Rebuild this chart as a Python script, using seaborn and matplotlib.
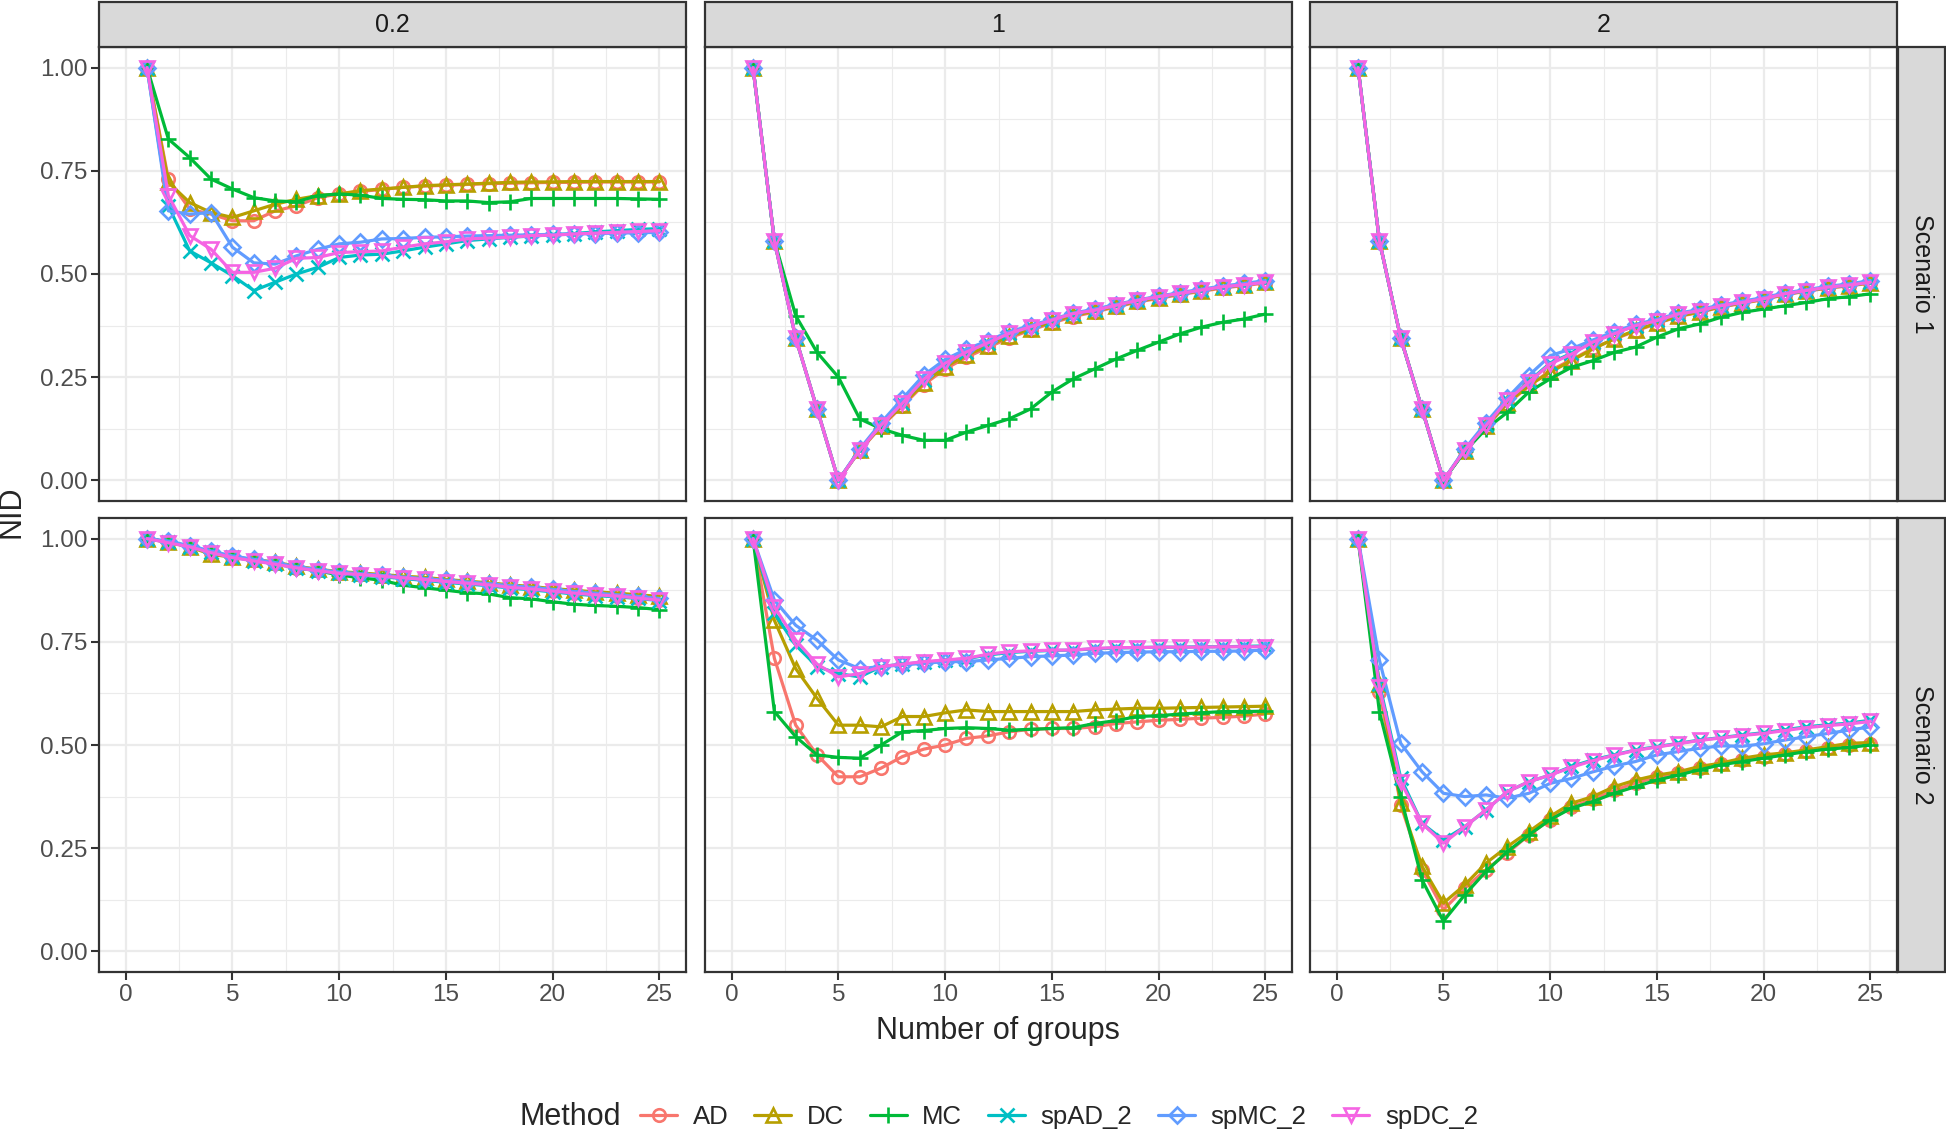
import numpy as np
import pandas as pd
import matplotlib
matplotlib.use("Agg")
import matplotlib.pyplot as plt
from matplotlib.patches import Rectangle
from matplotlib.lines import Line2D
from matplotlib.ticker import MultipleLocator, FormatStrFormatter
import seaborn as sns

# Data: NID by number of groups, per scenario / sigma panel and method
groups = list(range(1, 26))
methods = ["AD", "DC", "MC", "spAD_2", "spMC_2", "spDC_2"]
sigmas = ["0.2", "1", "2"]
scenarios = ["Scenario 1", "Scenario 2"]

s1_sig02 = {
    "AD": [1.0, 0.73, 0.657, 0.645, 0.629, 0.629, 0.653, 0.665, 0.685, 0.694, 0.70, 0.705, 0.71, 0.713, 0.715, 0.717, 0.719, 0.72, 0.721, 0.722, 0.722, 0.723, 0.723, 0.723, 0.723],
    "DC": [1.0, 0.722, 0.673, 0.649, 0.637, 0.653, 0.669, 0.681, 0.69, 0.694, 0.702, 0.706, 0.71, 0.714, 0.716, 0.718, 0.72, 0.722, 0.723, 0.723, 0.724, 0.724, 0.724, 0.724, 0.724],
    "MC": [1.0, 0.827, 0.782, 0.730, 0.706, 0.685, 0.677, 0.675, 0.690, 0.694, 0.691, 0.683, 0.681, 0.680, 0.677, 0.677, 0.673, 0.675, 0.683, 0.683, 0.683, 0.683, 0.683, 0.682, 0.681],
    "spAD_2": [1.0, 0.665, 0.556, 0.527, 0.496, 0.46, 0.48, 0.50, 0.516, 0.54, 0.546, 0.548, 0.556, 0.565, 0.573, 0.581, 0.585, 0.589, 0.592, 0.595, 0.598, 0.602, 0.605, 0.608, 0.61],
    "spMC_2": [1.0, 0.653, 0.645, 0.649, 0.565, 0.527, 0.524, 0.544, 0.56, 0.573, 0.577, 0.585, 0.586, 0.589, 0.590, 0.592, 0.593, 0.594, 0.595, 0.596, 0.597, 0.598, 0.599, 0.600, 0.601],
    "spDC_2": [1.0, 0.69, 0.593, 0.56, 0.504, 0.504, 0.514, 0.538, 0.54, 0.552, 0.554, 0.556, 0.565, 0.573, 0.578, 0.585, 0.587, 0.589, 0.593, 0.594, 0.597, 0.599, 0.601, 0.603, 0.605],
}
s1_sig1 = {
    "AD": [1.0, 0.581, 0.345, 0.173, 0.0, 0.072, 0.130, 0.180, 0.232, 0.270, 0.298, 0.322, 0.345, 0.364, 0.381, 0.397, 0.408, 0.420, 0.432, 0.441, 0.450, 0.458, 0.466, 0.472, 0.478],
    "DC": [1.0, 0.581, 0.345, 0.173, 0.0, 0.073, 0.132, 0.183, 0.236, 0.275, 0.303, 0.326, 0.349, 0.367, 0.384, 0.400, 0.410, 0.422, 0.434, 0.443, 0.452, 0.460, 0.468, 0.474, 0.480],
    "MC": [1.0, 0.581, 0.399, 0.31, 0.25, 0.149, 0.125, 0.109, 0.097, 0.097, 0.117, 0.133, 0.149, 0.173, 0.214, 0.246, 0.27, 0.294, 0.315, 0.335, 0.355, 0.371, 0.383, 0.391, 0.403],
    "spAD_2": [1.0, 0.581, 0.345, 0.173, 0.0, 0.074, 0.135, 0.188, 0.244, 0.284, 0.312, 0.333, 0.356, 0.372, 0.388, 0.404, 0.413, 0.424, 0.436, 0.445, 0.453, 0.461, 0.469, 0.474, 0.481],
    "spMC_2": [1.0, 0.581, 0.345, 0.173, 0.0, 0.076, 0.140, 0.198, 0.255, 0.293, 0.318, 0.338, 0.360, 0.375, 0.390, 0.405, 0.415, 0.426, 0.437, 0.446, 0.455, 0.463, 0.471, 0.477, 0.484],
    "spDC_2": [1.0, 0.581, 0.345, 0.173, 0.0, 0.073, 0.134, 0.187, 0.245, 0.284, 0.311, 0.333, 0.356, 0.372, 0.388, 0.404, 0.412, 0.424, 0.436, 0.445, 0.453, 0.461, 0.469, 0.474, 0.480],
}
s1_sig2 = {
    "AD": [1.0, 0.581, 0.345, 0.173, 0.0, 0.072, 0.130, 0.186, 0.228, 0.266, 0.292, 0.320, 0.342, 0.362, 0.380, 0.397, 0.407, 0.420, 0.429, 0.438, 0.450, 0.458, 0.466, 0.471, 0.478],
    "DC": [1.0, 0.581, 0.345, 0.173, 0.0, 0.072, 0.131, 0.188, 0.230, 0.262, 0.290, 0.318, 0.343, 0.364, 0.381, 0.398, 0.408, 0.421, 0.430, 0.439, 0.451, 0.459, 0.467, 0.472, 0.479],
    "MC": [1.0, 0.581, 0.345, 0.173, 0.0, 0.070, 0.125, 0.165, 0.214, 0.246, 0.274, 0.29, 0.31, 0.323, 0.347, 0.367, 0.379, 0.395, 0.407, 0.415, 0.423, 0.431, 0.44, 0.445, 0.452],
    "spAD_2": [1.0, 0.581, 0.345, 0.173, 0.0, 0.073, 0.134, 0.194, 0.240, 0.284, 0.308, 0.336, 0.356, 0.375, 0.388, 0.403, 0.412, 0.423, 0.432, 0.441, 0.452, 0.460, 0.468, 0.473, 0.480],
    "spMC_2": [1.0, 0.581, 0.345, 0.173, 0.0, 0.076, 0.140, 0.200, 0.254, 0.302, 0.319, 0.340, 0.360, 0.378, 0.390, 0.405, 0.414, 0.425, 0.434, 0.443, 0.454, 0.462, 0.470, 0.476, 0.484],
    "spDC_2": [1.0, 0.581, 0.345, 0.173, 0.0, 0.073, 0.133, 0.194, 0.238, 0.282, 0.306, 0.335, 0.355, 0.375, 0.387, 0.403, 0.411, 0.423, 0.431, 0.44, 0.452, 0.46, 0.468, 0.473, 0.48],
}
s2_sig02 = {
    "AD": [1.0, 0.992, 0.981, 0.966, 0.956, 0.948, 0.940, 0.930, 0.923, 0.917, 0.914, 0.910, 0.906, 0.902, 0.897, 0.893, 0.889, 0.883, 0.879, 0.874, 0.869, 0.865, 0.862, 0.857, 0.852],
    "DC": [1.0, 0.991, 0.980, 0.962, 0.955, 0.950, 0.943, 0.933, 0.926, 0.920, 0.917, 0.913, 0.909, 0.906, 0.901, 0.897, 0.893, 0.888, 0.884, 0.879, 0.875, 0.871, 0.868, 0.864, 0.860],
    "MC": [1.0, 0.992, 0.981, 0.968, 0.956, 0.948, 0.940, 0.930, 0.922, 0.912, 0.905, 0.899, 0.887, 0.881, 0.875, 0.869, 0.866, 0.857, 0.854, 0.847, 0.841, 0.838, 0.836, 0.833, 0.828],
    "spAD_2": [1.0, 0.992, 0.980, 0.968, 0.955, 0.947, 0.939, 0.929, 0.922, 0.916, 0.912, 0.908, 0.903, 0.899, 0.894, 0.890, 0.886, 0.880, 0.876, 0.871, 0.866, 0.862, 0.859, 0.855, 0.850],
    "spMC_2": [1.0, 0.994, 0.983, 0.970, 0.958, 0.950, 0.942, 0.932, 0.925, 0.919, 0.915, 0.911, 0.907, 0.903, 0.899, 0.895, 0.891, 0.886, 0.882, 0.877, 0.872, 0.868, 0.864, 0.860, 0.855],
    "spDC_2": [1.0, 0.990, 0.980, 0.966, 0.954, 0.946, 0.938, 0.929, 0.922, 0.916, 0.913, 0.909, 0.905, 0.901, 0.896, 0.892, 0.888, 0.882, 0.878, 0.873, 0.868, 0.864, 0.861, 0.856, 0.851],
}
s2_sig1 = {
    "AD": [1.0, 0.71, 0.548, 0.476, 0.423, 0.423, 0.444, 0.472, 0.49, 0.50, 0.516, 0.522, 0.532, 0.538, 0.54, 0.54, 0.544, 0.552, 0.556, 0.56, 0.562, 0.565, 0.567, 0.570, 0.575],
    "DC": [1.0, 0.802, 0.685, 0.613, 0.548, 0.548, 0.544, 0.569, 0.569, 0.578, 0.585, 0.581, 0.581, 0.581, 0.581, 0.581, 0.585, 0.587, 0.589, 0.589, 0.590, 0.591, 0.592, 0.593, 0.594],
    "MC": [1.0, 0.581, 0.52, 0.476, 0.47, 0.468, 0.50, 0.532, 0.535, 0.54, 0.542, 0.54, 0.536, 0.538, 0.54, 0.542, 0.552, 0.559, 0.569, 0.571, 0.575, 0.578, 0.581, 0.581, 0.582],
    "spAD_2": [1.0, 0.819, 0.742, 0.69, 0.673, 0.665, 0.69, 0.696, 0.70, 0.705, 0.709, 0.718, 0.724, 0.727, 0.729, 0.730, 0.733, 0.735, 0.736, 0.737, 0.737, 0.738, 0.738, 0.739, 0.740],
    "spMC_2": [1.0, 0.851, 0.79, 0.754, 0.706, 0.685, 0.69, 0.694, 0.698, 0.702, 0.702, 0.706, 0.71, 0.714, 0.716, 0.718, 0.722, 0.724, 0.725, 0.726, 0.726, 0.727, 0.727, 0.728, 0.73],
    "spDC_2": [1.0, 0.835, 0.754, 0.696, 0.665, 0.673, 0.69, 0.696, 0.702, 0.706, 0.71, 0.72, 0.726, 0.728, 0.73, 0.73, 0.734, 0.736, 0.736, 0.737, 0.737, 0.737, 0.738, 0.738, 0.738],
}
s2_sig2 = {
    "AD": [1.0, 0.629, 0.355, 0.198, 0.101, 0.153, 0.198, 0.238, 0.282, 0.319, 0.350, 0.368, 0.390, 0.408, 0.422, 0.432, 0.444, 0.453, 0.464, 0.472, 0.479, 0.485, 0.492, 0.499, 0.502],
    "DC": [1.0, 0.649, 0.359, 0.206, 0.117, 0.161, 0.214, 0.254, 0.29, 0.327, 0.359, 0.375, 0.399, 0.415, 0.427, 0.435, 0.448, 0.456, 0.468, 0.476, 0.481, 0.488, 0.496, 0.504, 0.506],
    "MC": [1.0, 0.581, 0.375, 0.173, 0.073, 0.137, 0.194, 0.242, 0.282, 0.319, 0.347, 0.363, 0.383, 0.399, 0.415, 0.427, 0.44, 0.452, 0.46, 0.468, 0.476, 0.484, 0.49, 0.494, 0.5],
    "spAD_2": [1.0, 0.649, 0.420, 0.31, 0.27, 0.302, 0.343, 0.387, 0.411, 0.427, 0.448, 0.464, 0.476, 0.488, 0.496, 0.504, 0.512, 0.518, 0.524, 0.53, 0.537, 0.544, 0.549, 0.553, 0.56],
    "spMC_2": [1.0, 0.706, 0.504, 0.435, 0.383, 0.375, 0.379, 0.371, 0.383, 0.407, 0.419, 0.435, 0.449, 0.46, 0.476, 0.484, 0.492, 0.498, 0.497, 0.503, 0.512, 0.52, 0.528, 0.536, 0.544],
    "spDC_2": [1.0, 0.64, 0.411, 0.31, 0.262, 0.302, 0.343, 0.387, 0.411, 0.427, 0.446, 0.462, 0.475, 0.487, 0.495, 0.503, 0.511, 0.517, 0.523, 0.528, 0.535, 0.542, 0.547, 0.551, 0.557],
}

panels = {
    ("Scenario 1", "0.2"): s1_sig02, ("Scenario 1", "1"): s1_sig1, ("Scenario 1", "2"): s1_sig2,
    ("Scenario 2", "0.2"): s2_sig02, ("Scenario 2", "1"): s2_sig1, ("Scenario 2", "2"): s2_sig2,
}

# long format
rows = []
for (scen, sig), vals in panels.items():
    for m in methods:
        for g, v in zip(groups, vals[m]):
            rows.append({"Scenario": scen, "sigma": sig, "Method": m, "groups": g, "NID": v})
df = pd.DataFrame(rows)

# ggplot default hue palette and shapes
palette = dict(zip(methods, ["#F8766D", "#B79F00", "#00BA38", "#00BFC4", "#619CFF", "#F564E3"]))
markers = {"AD": "o", "DC": "^", "MC": "+", "spAD_2": "x", "spMC_2": "D", "spDC_2": "v"}
msizes = {"AD": 9, "DC": 10, "MC": 12, "spAD_2": 10, "spMC_2": 8, "spDC_2": 10}
lw, mew = 2.3, 1.9

sns.set_theme(style="white")
plt.rcParams["font.family"] = ["Liberation Sans", "DejaVu Sans"]

W, H = 1946, 1130
fig = plt.figure(figsize=(W / 100, H / 100), dpi=100)

col_left = [99, 705, 1310]
row_top = [47, 518]
pw, ph = 587, 454
grey20 = "#333333"

for r, scen in enumerate(scenarios):
    for c, sig in enumerate(sigmas):
        ax = fig.add_axes([col_left[c] / W, 1 - (row_top[r] + ph) / H, pw / W, ph / H])
        sub = df[(df["Scenario"] == scen) & (df["sigma"] == sig)]
        sns.lineplot(
            data=sub, x="groups", y="NID", hue="Method",
            hue_order=methods, palette=palette,
            errorbar=None, legend=False, linewidth=lw, ax=ax, zorder=3
        )
        # ggplot shapes: set per line (seaborn refuses mixing filled and line markers)
        for line, m in zip(ax.lines, methods):
            col = palette[m]
            line.set_marker(markers[m])
            line.set_markeredgecolor(col)
            line.set_markerfacecolor("none")
            line.set_markeredgewidth(mew)
            line.set_markersize(msizes[m])

        ax.set_xlim(-1.25, 26.25)
        ax.set_ylim(-0.05, 1.05)
        ax.xaxis.set_major_locator(MultipleLocator(5))
        ax.xaxis.set_minor_locator(MultipleLocator(2.5))
        ax.yaxis.set_major_locator(MultipleLocator(0.25))
        ax.yaxis.set_minor_locator(MultipleLocator(0.125))
        ax.grid(which="major", color="#EBEBEB", lw=1.6, zorder=0)
        ax.grid(which="minor", color="#EBEBEB", lw=0.8, zorder=0)
        ax.set_axisbelow(True)
        for s in ax.spines.values():
            s.set_color(grey20)
            s.set_linewidth(1.6)
        ax.tick_params(which="minor", length=0)
        ax.tick_params(which="major", direction="out", length=5.5, width=1.5,
                       color=grey20, labelsize=17.5, labelcolor="#4D4D4D", pad=3)
        ax.set_xlabel("")
        ax.set_ylabel("")
        if r == 0:
            ax.tick_params(axis="x", bottom=False, labelbottom=False)
        else:
            ax.tick_params(axis="x", bottom=True)
        if c == 0:
            ax.tick_params(axis="y", left=True)
            ax.yaxis.set_major_formatter(FormatStrFormatter("%.2f"))
        else:
            ax.tick_params(axis="y", left=False, labelleft=False)

        # top strips
        if r == 0:
            fig.patches.append(Rectangle((col_left[c] / W, 1 - 47 / H), pw / W, 45 / H,
                                         transform=fig.transFigure, facecolor="#D9D9D9",
                                         edgecolor=grey20, lw=1.6, zorder=0))
            fig.text((col_left[c] + pw / 2) / W, 1 - 24.5 / H, sig, ha="center", va="center",
                     fontsize=18, color="#1A1A1A")
        # right strips
        if c == 2:
            fig.patches.append(Rectangle((1898 / W, 1 - (row_top[r] + ph) / H), 47 / W, ph / H,
                                         transform=fig.transFigure, facecolor="#D9D9D9",
                                         edgecolor=grey20, lw=1.6, zorder=0))
            fig.text(1922 / W, 1 - (row_top[r] + ph / 2) / H, scen, ha="center", va="center",
                     rotation=-90, fontsize=18, color="#1A1A1A")

# axis titles
fig.text(998 / W, 1 - 1031 / H, "Number of groups", ha="center", va="center", fontsize=22)
fig.text(12 / W, 1 - 512 / H, "NID", ha="center", va="center", rotation=90, fontsize=22)

# legend
handles = [Line2D([], [], color=palette[m], marker=markers[m], markersize=msizes[m],
                  markerfacecolor="none", markeredgecolor=palette[m], markeredgewidth=mew,
                  linewidth=lw) for m in methods]
fig.text(519 / W, 1 - 1117 / H, "Method", ha="left", va="center", fontsize=22)
fig.legend(handles, methods, loc="center left", bbox_to_anchor=(640 / W, 1 - 1117 / H),
           ncol=6, frameon=False, fontsize=18.5, handlelength=1.45, handletextpad=0.6,
           columnspacing=1.0, borderaxespad=0, borderpad=0)

fig.savefig("out.png", dpi=100)
